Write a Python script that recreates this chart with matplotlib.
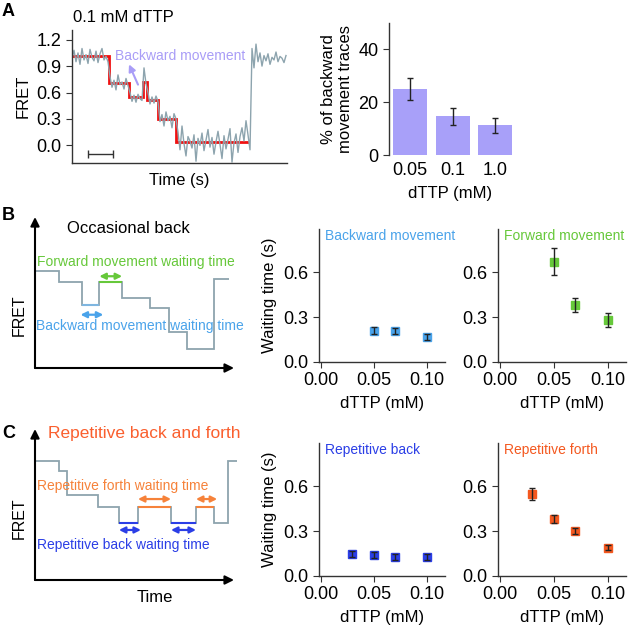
import numpy as np
import matplotlib
matplotlib.use("Agg")
import matplotlib.pyplot as plt

plt.rcParams['font.family'] = ['Liberation Sans', 'DejaVu Sans']
plt.rcParams['axes.linewidth'] = 1.0
plt.rcParams['axes.edgecolor'] = '#333333'
plt.rcParams['xtick.color'] = '#333333'
plt.rcParams['ytick.color'] = '#333333'
plt.rcParams['xtick.labelcolor'] = 'black'
plt.rcParams['ytick.labelcolor'] = 'black'

W, H = 629, 627

# ---- panel A: single-molecule FRET trace (0.1 mM dTTP) ----
fret_trace = [
    0.98, 1.08, 0.95, 1.05, 0.92, 1.10, 0.97, 1.03, 0.93, 1.09,
    1.00, 0.96, 1.07, 0.94, 1.04, 1.10, 0.97, 1.01, 0.95,
    0.78, 0.66, 0.74, 0.63, 0.80, 0.69, 0.72, 0.64, 0.76, 0.68,
    0.60, 0.50, 0.57, 0.49, 0.58, 0.53, 0.51,
    0.88, 0.70,
    0.60, 0.47, 0.55, 0.48, 0.56, 0.50,
    0.27, 0.35, 0.22, 0.38, 0.28, 0.33, 0.20, 0.36, 0.30,
    0.15, -0.05, 0.22, 0.02, -0.12, 0.10, 0.05, -0.03, 0.12, -0.18,
    0.08, 0.00, 0.14, -0.06, 0.06, 0.18, -0.02, 0.09, -0.10, 0.04,
    0.16, 0.01, -0.15, 0.11, -0.04, 0.07, 0.19, -0.19, 0.03, 0.13,
    -0.08, 0.10, 0.20, 0.05, 0.28, 0.12,
    -0.05,
    1.10, 0.88, 1.15, 0.95, 1.05, 0.90, 1.02, 0.96, 1.04, 0.92,
    1.00, 0.97, 1.06, 0.95, 1.01, 0.99, 0.94, 1.02,
]
fit_edges = [0, 18.5, 28.5, 35.5, 37.5, 43, 52, 88.5]
fit_levels = [1.02, 0.71, 0.55, 0.72, 0.52, 0.30, 0.04]

# ---- panel A: % of backward movement traces ----
bar_labels = ['0.05', '0.1', '1.0']
bar_values = [25.0, 14.6, 11.2]
bar_errors = [4.0, 3.1, 2.7]

# ---- panel B: waiting times ----
b_dttp = [0.05, 0.07, 0.10]
backward_wait = [0.21, 0.205, 0.17]
backward_err = [0.025, 0.02, 0.02]
forward_wait = [0.67, 0.38, 0.28]
forward_err = [0.09, 0.045, 0.045]

# ---- panel C: waiting times ----
c_dttp = [0.03, 0.05, 0.07, 0.10]
rep_back_wait = [0.15, 0.14, 0.125, 0.125]
rep_back_err = [0.02, 0.02, 0.02, 0.02]
rep_forth_wait = [0.545, 0.38, 0.30, 0.19]
rep_forth_err = [0.04, 0.025, 0.02, 0.015]

# ---- schematics ----
b_edges = [0, 1.2, 2.35, 3.25, 4.4, 5.8, 6.75, 7.7, 9.05, 9.8]
b_levels = [0.655, 0.58, 0.425, 0.58, 0.47, 0.405, 0.245, 0.13, 0.60]
c_edges = [0, 1.21, 1.62, 3.18, 4.24, 5.2, 6.87, 8.13, 9.04, 9.75, 10.2]
c_levels = [0.804, 0.736, 0.574, 0.493, 0.385, 0.493, 0.385, 0.493, 0.385, 0.804]

GRAY = '#8da4ae'
LAV = '#a99df7'
BAR = '#a8a0f9'
LBLUE = '#4aa3ea'
GREEN = '#66c83a'
DBLUE = '#2b3ee6'
ORANGE = '#f4581f'
LORANGE = '#f6823a'

fig = plt.figure(figsize=(W / 100, H / 100), dpi=100)


def px_axes(x0, y0, x1, y1):
    return fig.add_axes([x0 / W, 1 - y1 / H, (x1 - x0) / W, (y1 - y0) / H])


def clean(ax):
    ax.spines['top'].set_visible(False)
    ax.spines['right'].set_visible(False)


# trace
ax = px_axes(72, 30, 287, 163)
ax.plot(np.arange(len(fret_trace)), fret_trace, color=GRAY, lw=1)
ax.stairs(fit_levels, fit_edges, baseline=None, color='#f01010', lw=2)
ax.set_xlim(0, len(fret_trace) - 0.5)
ax.set_ylim(-0.2, 1.31)
ax.set_yticks([0, 0.3, 0.6, 0.9, 1.2])
ax.set_yticklabels(['0.0', '0.3', '0.6', '0.9', '1.2'])
ax.set_xticks([])
ax.tick_params(labelsize=13, length=4)
clean(ax)
ax.set_ylabel('FRET', fontsize=12, labelpad=4)
ax.set_xlabel('Time (s)', fontsize=12, labelpad=7)
ax.errorbar(14.25, -0.1, xerr=6.25, color='#333333', capsize=3, lw=1, capthick=1)
ax.text(21.5, 1.02, 'Backward movement', color=LAV, fontsize=10, va='center')
ax.annotate('', xy=(28.5, 0.92), xytext=(33, 0.69),
            arrowprops=dict(arrowstyle='-|>', color=LAV, lw=1.5, mutation_scale=10,
                            shrinkA=0, shrinkB=0))
fig.text(73 / W, 1 - 17 / H, '0.1 mM dTTP', fontsize=12, va='center')

# bars
ax = px_axes(389, 23, 512, 155)
xb = np.arange(len(bar_values))
ax.bar(xb, bar_values, width=0.8, color=BAR)
ax.errorbar(xb, bar_values, yerr=bar_errors, fmt='none', ecolor='#222222',
            capsize=2.5, lw=1, capthick=1)
ax.set_xlim(-0.5, 2.4)
ax.set_ylim(0, 50)
ax.set_yticks([0, 20, 40])
ax.set_xticks(xb)
ax.set_xticklabels(bar_labels)
ax.tick_params(axis='y', labelsize=13, length=4)
ax.tick_params(axis='x', labelsize=13, length=0, pad=5)
for s in ['top', 'right', 'bottom']:
    ax.spines[s].set_visible(False)
ax.set_ylabel('% of backward\nmovement traces', fontsize=12, labelpad=4, linespacing=1.15)
ax.set_xlabel('dTTP (mM)', fontsize=12, labelpad=5)


# scatter panels
def wait_panel(box, x, y, err, color, title, ylabel):
    ax = px_axes(*box)
    ax.plot(x, y, 's', color=color, ms=6.2, mec=color, zorder=2)
    ax.errorbar(x, y, yerr=err, fmt='none', ecolor='#222222', capsize=2.2,
                lw=1, capthick=1, zorder=3)
    ax.set_xlim(-0.0015, 0.117)
    ax.set_ylim(0, 0.887)
    ax.set_xticks([0, 0.05, 0.10])
    ax.set_xticklabels(['0.00', '0.05', '0.10'])
    ax.set_yticks([0, 0.3, 0.6])
    ax.set_yticklabels(['0.0', '0.3', '0.6'])
    ax.tick_params(labelsize=13, length=4)
    clean(ax)
    ax.set_xlabel('dTTP (mM)', fontsize=12, labelpad=5)
    if ylabel:
        ax.set_ylabel('Waiting time (s)', fontsize=12, labelpad=5)
    ax.text(0.05, 0.945, title, color=color, fontsize=10, va='center',
            transform=ax.transAxes)
    return ax


wait_panel((319, 229, 445, 362), b_dttp, backward_wait, backward_err, LBLUE,
           'Backward movement', True)
wait_panel((498, 229, 626, 362), b_dttp, forward_wait, forward_err, GREEN,
           'Forward movement', False)
wait_panel((319, 443, 445, 576), c_dttp, rep_back_wait, rep_back_err, DBLUE,
           'Repetitive back', True)
wait_panel((498, 443, 626, 576), c_dttp, rep_forth_wait, rep_forth_err, ORANGE,
           'Repetitive forth', False)


# schematics
def schematic(box, edges, levels):
    ax = px_axes(*box)
    ax.set_xlim(0, 10)
    ax.set_ylim(0, 1)
    ax.axis('off')
    ax.stairs(levels, edges, baseline=None, color=GRAY, lw=1.3, clip_on=False)
    axis_arrow = dict(arrowstyle='-|>', color='black', lw=1.5, mutation_scale=13,
                      shrinkA=0, shrinkB=0)
    ax.annotate('', xy=(0, 1.02), xytext=(0, 0), arrowprops=axis_arrow,
                annotation_clip=False)
    ax.annotate('', xy=(10.05, 0), xytext=(0, 0), arrowprops=axis_arrow,
                annotation_clip=False)
    return ax


def dbl_arrow(ax, x0, x1, y, color):
    ax.annotate('', xy=(x1, y), xytext=(x0, y),
                arrowprops=dict(arrowstyle='<|-|>', color=color, lw=1.6,
                                mutation_scale=9, shrinkA=0, shrinkB=0))


ax = schematic((35, 220, 233, 368), b_edges, b_levels)
ax.hlines(b_levels[3], b_edges[3], b_edges[4], color=GREEN, lw=1.5)
ax.hlines(b_levels[2], b_edges[2], b_edges[3], color='#7fb6e0', lw=1.5)
dbl_arrow(ax, 3.25, 4.4, 0.62, GREEN)
dbl_arrow(ax, 2.3, 3.45, 0.36, LBLUE)
ax.text(0.1, 0.715, 'Forward movement waiting time', color=GREEN, fontsize=10, va='center')
ax.text(0.05, 0.285, 'Backward movement waiting time', color=LBLUE, fontsize=10, va='center')
ax.text(1.6, 0.945, 'Occasional back', fontsize=12, va='center')
ax.text(-0.081, 0.36, 'FRET', rotation=90, fontsize=11.5, va='center', ha='center',
        transform=ax.transAxes)

ax = schematic((35, 432, 233, 580), c_edges, c_levels)
for i in [4, 6]:
    ax.hlines(c_levels[i], c_edges[i], c_edges[i + 1], color=DBLUE, lw=1.5)
for i in [5, 7]:
    ax.hlines(c_levels[i], c_edges[i], c_edges[i + 1], color=LORANGE, lw=1.5)
dbl_arrow(ax, 5.2, 6.87, 0.547, LORANGE)
dbl_arrow(ax, 8.13, 9.2, 0.547, LORANGE)
dbl_arrow(ax, 4.24, 5.35, 0.338, DBLUE)
dbl_arrow(ax, 6.87, 8.13, 0.338, DBLUE)
ax.text(0.66, 0.99, 'Repetitive back and forth', color='#fa5f2e', fontsize=12.5, va='center')
ax.text(0.1, 0.635, 'Repetitive forth waiting time', color=LORANGE, fontsize=10, va='center')
ax.text(0.1, 0.236, 'Repetitive back waiting time', color=DBLUE, fontsize=10, va='center')
ax.text(-0.081, 0.42, 'FRET', rotation=90, fontsize=11.5, va='center', ha='center',
        transform=ax.transAxes)
ax.text(0.606, -0.115, 'Time', fontsize=12, va='center', ha='center', transform=ax.transAxes)

# panel letters
for letter, ypx in [('A', 12), ('B', 215), ('C', 433)]:
    fig.text(2 / W, 1 - ypx / H, letter, fontsize=13, fontweight='bold', va='center')

fig.savefig('out.png', dpi=100)
